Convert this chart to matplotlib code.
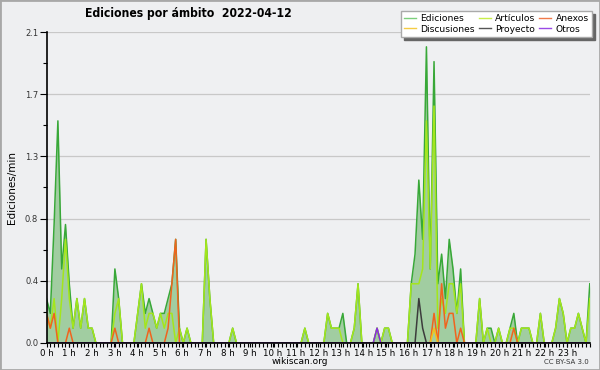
from __future__ import annotations

import matplotlib

matplotlib.use("Agg")
import matplotlib.pyplot as plt
import numpy as np
from matplotlib.patches import Rectangle

TITLE = "Ediciones por ámbito  2022-04-12"
Y_LABEL = "Ediciones/min"
HOUR_LABELS = [f"{h} h" for h in range(24)]
Y_TICK_VALUES = [0.0, 0.42, 0.84, 1.26, 1.68, 2.1]

# 10-minute bins, 144 per day (edits per minute), two hours per row
ediciones = [
    0.3, 0.2, 0.8, 1.5, 0.5, 0.8, 0.4, 0.1, 0.3, 0.1, 0.3, 0.1,
    0.1, 0.0, 0.0, 0.0, 0.0, 0.0, 0.5, 0.3, 0.0, 0.0, 0.0, 0.0,
    0.2, 0.4, 0.2, 0.3, 0.2, 0.1, 0.2, 0.2, 0.3, 0.4, 0.7, 0.1,
    0.0, 0.1, 0.0, 0.0, 0.0, 0.0, 0.7, 0.3, 0.0, 0.0, 0.0, 0.0,
    0.0, 0.1, 0.0, 0.0, 0.0, 0.0, 0.0, 0.0, 0.0, 0.0, 0.0, 0.0,
    0.0, 0.0, 0.0, 0.0, 0.0, 0.0, 0.0, 0.0, 0.1, 0.0, 0.0, 0.0,
    0.0, 0.0, 0.2, 0.1, 0.1, 0.1, 0.2, 0.0, 0.0, 0.1, 0.4, 0.0,
    0.0, 0.0, 0.0, 0.1, 0.0, 0.1, 0.1, 0.0, 0.0, 0.0, 0.0, 0.0,
    0.4, 0.6, 1.1, 0.7, 2.0, 0.5, 1.9, 0.4, 0.6, 0.3, 0.7, 0.5,
    0.2, 0.5, 0.0, 0.0, 0.0, 0.0, 0.3, 0.0, 0.1, 0.1, 0.0, 0.1,
    0.0, 0.0, 0.1, 0.2, 0.0, 0.1, 0.1, 0.1, 0.0, 0.0, 0.2, 0.0,
    0.0, 0.0, 0.1, 0.3, 0.2, 0.0, 0.1, 0.1, 0.2, 0.1, 0.0, 0.4,
]
articulos = [
    0.2, 0.1, 0.3, 0.0, 0.3, 0.7, 0.3, 0.1, 0.3, 0.1, 0.3, 0.1,
    0.1, 0.0, 0.0, 0.0, 0.0, 0.0, 0.2, 0.3, 0.0, 0.0, 0.0, 0.0,
    0.2, 0.4, 0.1, 0.2, 0.2, 0.1, 0.2, 0.1, 0.2, 0.2, 0.0, 0.1,
    0.0, 0.1, 0.0, 0.0, 0.0, 0.0, 0.7, 0.3, 0.0, 0.0, 0.0, 0.0,
    0.0, 0.1, 0.0, 0.0, 0.0, 0.0, 0.0, 0.0, 0.0, 0.0, 0.0, 0.0,
    0.0, 0.0, 0.0, 0.0, 0.0, 0.0, 0.0, 0.0, 0.1, 0.0, 0.0, 0.0,
    0.0, 0.0, 0.2, 0.1, 0.1, 0.1, 0.0, 0.0, 0.0, 0.1, 0.4, 0.0,
    0.0, 0.0, 0.0, 0.1, 0.0, 0.1, 0.1, 0.0, 0.0, 0.0, 0.0, 0.0,
    0.4, 0.4, 0.4, 0.5, 1.5, 0.5, 1.6, 0.1, 0.3, 0.2, 0.4, 0.4,
    0.2, 0.4, 0.0, 0.0, 0.0, 0.0, 0.3, 0.0, 0.1, 0.0, 0.0, 0.1,
    0.0, 0.0, 0.1, 0.1, 0.0, 0.1, 0.1, 0.1, 0.0, 0.0, 0.2, 0.0,
    0.0, 0.0, 0.1, 0.3, 0.2, 0.0, 0.1, 0.1, 0.2, 0.1, 0.0, 0.3,
]
anexos = [
    0.2, 0.1, 0.2, 0.0, 0.0, 0.0, 0.1, 0.0, 0.0, 0.0, 0.0, 0.0,
    0.0, 0.0, 0.0, 0.0, 0.0, 0.0, 0.1, 0.0, 0.0, 0.0, 0.0, 0.0,
    0.0, 0.0, 0.0, 0.1, 0.0, 0.0, 0.0, 0.0, 0.1, 0.4, 0.7, 0.0,
    0.0, 0.0, 0.0, 0.0, 0.0, 0.0, 0.0, 0.0, 0.0, 0.0, 0.0, 0.0,
    0.0, 0.0, 0.0, 0.0, 0.0, 0.0, 0.0, 0.0, 0.0, 0.0, 0.0, 0.0,
    0.0, 0.0, 0.0, 0.0, 0.0, 0.0, 0.0, 0.0, 0.0, 0.0, 0.0, 0.0,
    0.0, 0.0, 0.0, 0.0, 0.0, 0.0, 0.0, 0.0, 0.0, 0.0, 0.0, 0.0,
    0.0, 0.0, 0.0, 0.0, 0.0, 0.0, 0.0, 0.0, 0.0, 0.0, 0.0, 0.0,
    0.0, 0.0, 0.0, 0.0, 0.0, 0.0, 0.2, 0.0, 0.4, 0.1, 0.2, 0.2,
    0.0, 0.1, 0.0, 0.0, 0.0, 0.0, 0.0, 0.0, 0.0, 0.0, 0.0, 0.0,
    0.0, 0.0, 0.0, 0.1, 0.0, 0.0, 0.0, 0.0, 0.0, 0.0, 0.0, 0.0,
    0.0, 0.0, 0.0, 0.0, 0.0, 0.0, 0.0, 0.0, 0.0, 0.0, 0.0, 0.0,
]
discusiones = [0.0] * 144
discusiones[102] = 0.1
proyecto = [0.0] * 144
proyecto[98] = 0.3
proyecto[99] = 0.1
otros = [0.0] * 144
otros[87] = 0.1

SERIES = [
    ("Ediciones", ediciones, "#38a838", "#7ccf7c"),
    ("Artículos", articulos, "#a4e61c", "#c8ee4a"),
    ("Anexos", anexos, "#f0641e", "#f07a4a"),
    ("Discusiones", discusiones, "#f2c21a", "#f5cc44"),
    ("Proyecto", proyecto, "#3c3c3c", "#555555"),
    ("Otros", otros, "#8a2be2", "#9a4ae6"),
]


def main() -> None:
    fig = plt.figure(figsize=(6.0, 3.7), dpi=100, facecolor="#eeeff1")
    ax = fig.add_axes([0.0775, 0.073, 0.9055, 0.8405])
    ax.set_facecolor("#eff0f2")

    x = np.arange(len(ediciones)) * 24 / (len(ediciones) - 1)

    ax.fill_between(x, 0, ediciones, color="#a1cda1", lw=0, zorder=1)
    for name, values, color, _ in SERIES:
        ax.plot(x, values, color=color, lw=1.1, zorder=3)

    ax.set_xlim(0, 24)
    ax.set_ylim(0, 2.1)
    ax.set_yticks(Y_TICK_VALUES)
    ax.set_yticklabels([f"{v:.1f}" for v in Y_TICK_VALUES], fontsize=6, color="#333333")
    ax.set_yticks([0.21, 0.63, 1.05, 1.47, 1.89], minor=True)
    ax.set_xticks(range(24))
    ax.set_xticklabels(HOUR_LABELS, fontsize=6.2)
    ax.set_xticks(x, minor=True)
    ax.tick_params(axis="y", which="major", length=5, width=0.8, pad=1)
    ax.tick_params(axis="y", which="minor", length=3, width=0.8)
    ax.tick_params(axis="x", which="both", length=3, width=0.8, pad=1)
    ax.grid(axis="y", color="#c8c8c8", lw=0.9, zorder=0)
    ax.set_axisbelow(True)

    for side in ("top", "right"):
        ax.spines[side].set_visible(False)
    for side in ("left", "bottom"):
        ax.spines[side].set_linewidth(1.2)
        ax.spines[side].set_zorder(10)

    ax.set_ylabel(Y_LABEL, fontsize=7.5)
    ax.yaxis.set_label_coords(-0.055, 0.5)

    fig.text(85 / 600, 1 - 14 / 370, TITLE, fontsize=8.7, fontweight="bold", ha="left", va="center", fontstretch="condensed")
    fig.text(0.5, 1 - 361 / 370, "wikiscan.org", fontsize=6.5, ha="center", va="center")
    fig.text(589 / 600, 1 - 362 / 370, "CC BY-SA 3.0", fontsize=5, ha="right", va="center", color="#333333")

    handles = {}
    for name, values, _, lcolor in SERIES:
        (h,) = ax.plot([], [], color=lcolor, lw=1.0)
        handles[name] = h
    order = ["Ediciones", "Discusiones", "Artículos", "Proyecto", "Anexos", "Otros"]
    leg = ax.legend(
        [handles[n] for n in order],
        order,
        ncol=3,
        loc="upper right",
        bbox_to_anchor=(592 / 600, 1 - 11 / 370),
        bbox_transform=fig.transFigure,
        fontsize=6.6,
        frameon=True,
        fancybox=False,
        framealpha=1,
        edgecolor="#aaaaaa",
        facecolor="white",
        shadow={"color": "#666666", "alpha": 1},
        handlelength=1.3,
        handletextpad=0.5,
        columnspacing=0.4,
        labelspacing=0.15,
        borderpad=0.35,
        borderaxespad=0,
    )
    leg.set_zorder(20)

    fig.patches.append(Rectangle((0, 0), 1, 1, transform=fig.transFigure, fill=False, edgecolor="#a8a8a8", lw=2.0))

    fig.savefig("out.png", dpi=100, facecolor=fig.get_facecolor())
    plt.close(fig)


if __name__ == "__main__":
    main()
